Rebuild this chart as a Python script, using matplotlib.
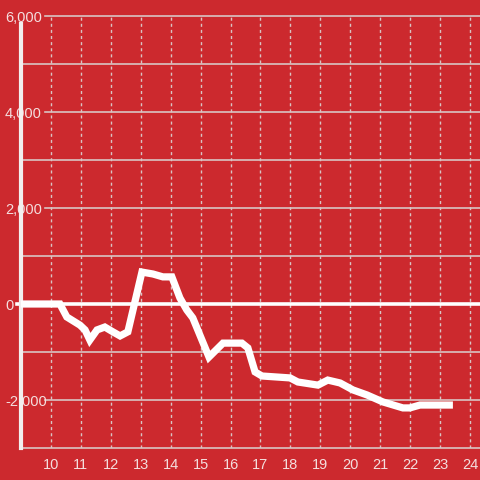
import matplotlib
matplotlib.use("Agg")
import matplotlib.pyplot as plt

# values (hour of day vs. running total)
hours = [9.0, 10.30, 10.53, 10.97, 11.14, 11.30, 11.54, 11.80, 12.07, 12.31,
         12.57, 13.04, 13.41, 13.74, 14.04, 14.31, 14.54, 14.74, 15.28, 15.75,
         16.38, 16.58, 16.82, 17.05, 17.99, 18.25, 18.92, 19.25, 19.66, 20.09,
         20.56, 21.09, 21.76, 21.99, 22.33, 23.43]
totals = [0, 0, -270, -440, -540, -750, -540, -480, -580, -665,
          -580, 665, 625, 565, 565, 125, -125, -290, -1105, -815,
          -815, -915, -1415, -1500, -1540, -1625, -1690, -1585, -1645, -1790,
          -1895, -2040, -2165, -2165, -2105, -2105]

x_ticks = list(range(10, 25))
y_ticks = [-2000, 0, 2000, 4000, 6000]
grid_values = list(range(-3000, 7000, 1000))

bg = "#cc292e"
grid_col = "#d9c4c4"
text_col = "#f4dede"

plt.rcParams["font.family"] = ["Liberation Sans", "DejaVu Sans"]

fig = plt.figure(figsize=(4.8, 4.8), dpi=100, facecolor=bg)
ax = fig.add_axes([21 / 480, 32 / 480, 459 / 480, 432 / 480], facecolor=bg)
ax.set_xlim(9.0, 24.335)
ax.set_ylim(-3000, 6000)

for s in ax.spines.values():
    s.set_visible(False)

# horizontal grid (labelled lines leave room for their label)
for v in grid_values:
    if v == 0:
        continue
    start = 24 / 459 if v in y_ticks else 0
    ax.axhline(v, xmin=start, xmax=1, color=grid_col, lw=1.2, zorder=1, clip_on=False)

# vertical dotted grid
for h in x_ticks:
    ax.axvline(h, color=grid_col, lw=1, ls=(0, (2.2, 2.2)), zorder=1)

# zero line and left axis
ax.axhline(0, xmin=-4 / 459, xmax=1, color="white", lw=2.6, zorder=2, clip_on=False)
ax.axvline(9.0, ymin=0, ymax=424 / 432, color="#f2eeee", lw=3, zorder=3, clip_on=False)

ax.plot(hours, totals, color="white", lw=5.2, solid_joinstyle="miter",
        solid_capstyle="butt", zorder=4)

ax.set_xticks(x_ticks)
ax.set_xticklabels([str(h) for h in x_ticks])
ax.set_yticks(y_ticks)
ax.set_yticklabels([f"{v:,}" for v in y_ticks])
for lbl in ax.get_yticklabels():
    lbl.set_horizontalalignment("left")
ax.tick_params(axis="y", length=0, pad=11.5, labelsize=10.5, labelcolor=text_col)
ax.tick_params(axis="x", length=0, pad=7, labelsize=10.5, labelcolor=text_col)

fig.savefig("out.png", dpi=100, facecolor=bg)
